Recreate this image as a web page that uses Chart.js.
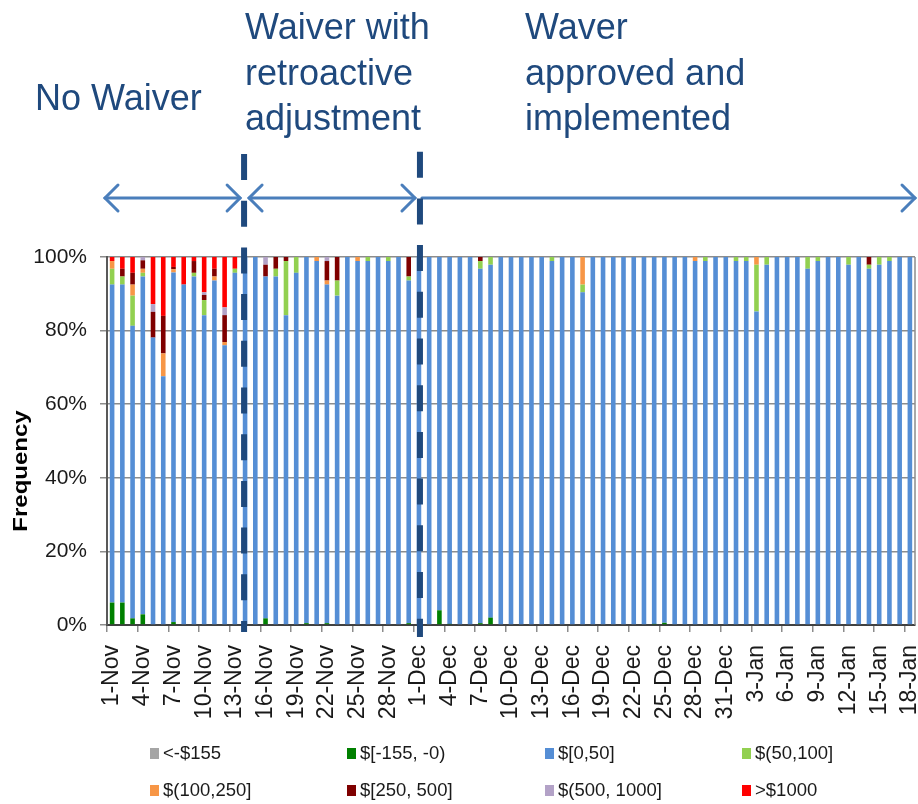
<!DOCTYPE html>
<html lang="en">
  <head>
    <meta charset="UTF-8">
    <title>Claim distribution by day</title>
    <script src="https://cdn.jsdelivr.net/npm/chart.js"></script>
    <style>
      body { margin: 0; background: #fff; }
    </style>
  </head>
  <body>
    <canvas id="barChart" width="918" height="804"></canvas>
    <script>
      const days = [
        '1-Nov','2-Nov','3-Nov','4-Nov','5-Nov','6-Nov','7-Nov','8-Nov','9-Nov','10-Nov',
        '11-Nov','12-Nov','13-Nov','14-Nov','15-Nov','16-Nov','17-Nov','18-Nov','19-Nov','20-Nov',
        '21-Nov','22-Nov','23-Nov','24-Nov','25-Nov','26-Nov','27-Nov','28-Nov','29-Nov','30-Nov',
        '1-Dec','2-Dec','3-Dec','4-Dec','5-Dec','6-Dec','7-Dec','8-Dec','9-Dec','10-Dec',
        '11-Dec','12-Dec','13-Dec','14-Dec','15-Dec','16-Dec','17-Dec','18-Dec','19-Dec','20-Dec',
        '21-Dec','22-Dec','23-Dec','24-Dec','25-Dec','26-Dec','27-Dec','28-Dec','29-Dec','30-Dec',
        '31-Dec','1-Jan','2-Jan','3-Jan','4-Jan','5-Jan','6-Jan','7-Jan','8-Jan','9-Jan',
        '10-Jan','11-Jan','12-Jan','13-Jan','14-Jan','15-Jan','16-Jan','17-Jan','18-Jan'
      ];

      const binLabels = ['<-$155', '$[-155, -0)', '$[0,50]', '$(50,100]', '$(100,250]', '$[250, 500]', '$(500, 1000]', '>$1000'];
      const binColors = ['#A5A5A5', '#008000', '#558ED5', '#92D050', '#F79646', '#7F0000', '#B3A2C7', '#FF0000'];

      // share of claims (%) per day, one array per bin
      const belowMinus155 = [
        0,0,0,0,0,0,0,0,0,0, 0,0,0,0,0,0,0,0,0,0, 0,0,0,0,0,0,0,0,0,0,
        0,0,0,0,0,0,0,0,0,0, 0,0,0,0,0,0,0,0,0,0, 0,0,0,0,0,0,0,0,0,0,
        0,0,0,0,0,0,0,0,0,0, 0,0,0,0,0,0,0,0,0
      ];
      const minus155to0 = [
        6.1,6.1,1.8,2.9,0,0,0.8,0,0,0, 0,0,0,0,0,1.8,0,0,0,0.5, 0,0.5,0,0,0,0,0,0,0,0.5,
        0,0,4.0,0.3,0,0,0.5,2.0,0,0, 0,0,0,0,0,0,0,0,0,0, 0,0,0,0.3,0.6,0,0,0,0,0,
        0,0,0,0,0,0,0,0,0,0, 0,0,0,0,0,0,0,0,0
      ];
      const zeroTo50 = [
        86.4,86.4,79.5,91.8,78.1,67.6,95.0,92.5,94.7,84.2,
        93.6,76.0,95.7,100,100,92.9,94.7,84.2,95.7,99.5,
        98.9,92.0,89.5,100,98.9,98.9,100,98.9,100,93.1,
        100,100,96.0,99.7,100,100,96.3,95.9,100,100,
        100,100,100,98.9,100,100,90.4,100,100,100,
        100,100,100,99.7,99.4,100,100,98.9,98.9,100,
        100,98.9,98.9,85.2,97.9,100,100,100,96.8,98.9,
        100,100,97.9,100,96.8,97.9,98.9,100,100
      ];
      const from50to100 = [
        4.3,2.2,8.2,1.0,0,0,0,0,1.0,4.1, 0,0,1.1,0,0,0,2.1,14.7,4.3,0, 0,0,4.1,0,0,1.1,0,1.1,0,1.1,
        0,0,0,0,0,0,2.1,2.1,0,0, 0,0,0,1.1,0,0,2.1,0,0,0, 0,0,0,0,0,0,0,0,1.1,0,
        0,1.1,1.1,12.7,2.1,0,0,0,3.2,1.1, 0,0,2.1,0,1.1,2.1,1.1,0,0
      ];
      const from100to250 = [
        2.1,0,3.0,1.1,0,6.2,0.9,0,0,0, 1.1,0.9,0,0,0,0,0,0,0,0, 1.1,1.1,0,0,1.1,0,0,0,0,0,
        0,0,0,0,0,0,0,0,0,0, 0,0,0,0,0,0,7.5,0,0,0, 0,0,0,0,0,0,0,1.1,0,0,
        0,0,0,2.1,0,0,0,0,0,0, 0,0,0,0,0,0,0,0,0
      ];
      const from250to500 = [
        0,2.1,3.2,2.3,7.0,10.2,0.6,0,3.2,1.4, 2.1,7.3,0,0,0,3.2,3.2,1.1,0,0, 0,5.3,6.4,0,0,0,0,0,0,5.3,
        0,0,0,0,0,0,1.1,0,0,0, 0,0,0,0,0,0,0,0,0,0, 0,0,0,0,0,0,0,0,0,0,
        0,0,0,0,0,0,0,0,0,0, 0,0,0,0,2.1,0,0,0,0
      ];
      const from500to1000 = [
        0,0,0,0.9,2.1,0,0,0,0,0.7, 0,2.1,0,0,0,2.1,0,0,0,0, 0,1.1,0,0,0,0,0,0,0,0,
        0,0,0,0,0,0,0,0,0,0, 0,0,0,0,0,0,0,0,0,0, 0,0,0,0,0,0,0,0,0,0,
        0,0,0,0,0,0,0,0,0,0, 0,0,0,0,0,0,0,0,0
      ];
      const above1000 = [
        1.1,3.2,4.3,0,12.8,16.0,2.7,7.5,1.1,9.6, 3.2,13.7,3.2,0,0,0,0,0,0,0, 0,0,0,0,0,0,0,0,0,0,
        0,0,0,0,0,0,0,0,0,0, 0,0,0,0,0,0,0,0,0,0, 0,0,0,0,0,0,0,0,0,0,
        0,0,0,0,0,0,0,0,0,0, 0,0,0,0,0,0,0,0,0
      ];

      const yTicks = [0, 20, 40, 60, 80, 100];

      // period markers: dashed line drawn over these days
      const waiverStartDay = '14-Nov';
      const waiverApprovedDay = '1-Dec';

      const series = [belowMinus155, minus155to0, zeroTo50, from50to100, from100to250, from250to500, from500to1000, above1000];

      const data = {
        labels: days,
        datasets: series.map((values, i) => ({
          label: binLabels[i],
          data: values,
          backgroundColor: binColors[i],
          barPercentage: 0.45,
          categoryPercentage: 1.0
        }))
      };

      const overlayPlugin = {
        id: 'overlay',
        afterDraw(chart) {
          const ctx = chart.ctx;
          const area = chart.chartArea;
          const xScale = chart.scales.x;
          ctx.save();

          // right border of plot area
          ctx.strokeStyle = '#8C8C8C';
          ctx.lineWidth = 1.5;
          ctx.beginPath();
          ctx.moveTo(area.right, area.top);
          ctx.lineTo(area.right, area.bottom);
          ctx.stroke();

          const x1 = xScale.getPixelForValue(days.indexOf(waiverStartDay)) - 1;
          const x2 = xScale.getPixelForValue(days.indexOf(waiverApprovedDay)) + 1;

          // arrows
          const ay = 198;
          ctx.strokeStyle = '#4A7EBB';
          ctx.lineWidth = 3;
          ctx.lineCap = 'round';
          function head(x, dir) {
            ctx.beginPath();
            ctx.moveTo(x - dir * 13, ay - 13);
            ctx.lineTo(x, ay);
            ctx.lineTo(x - dir * 13, ay + 13);
            ctx.stroke();
          }
          function arrow(xa, xb, leftHead, rightHead) {
            ctx.beginPath();
            ctx.moveTo(xa, ay);
            ctx.lineTo(xb, ay);
            ctx.stroke();
            if (leftHead) head(xa, -1);
            if (rightHead) head(xb, 1);
          }
          arrow(area.left - 2, x1 - 4, true, true);
          arrow(x1 + 5, x2 - 5, true, true);
          arrow(x2 + 2, area.right, false, true);

          // dashed period lines
          ctx.strokeStyle = '#1F497D';
          ctx.lineWidth = 6;
          ctx.lineCap = 'butt';
          ctx.setLineDash([26, 20.7]);
          ctx.beginPath();
          ctx.moveTo(x1, 154);
          ctx.lineTo(x1, 632);
          ctx.stroke();
          ctx.beginPath();
          ctx.moveTo(x2, 151.7);
          ctx.lineTo(x2, 637);
          ctx.stroke();
          ctx.setLineDash([]);

          // period captions
          ctx.fillStyle = '#1F497D';
          ctx.font = '36px "Liberation Sans", Arial, sans-serif';
          ctx.textAlign = 'left';
          ctx.textBaseline = 'alphabetic';
          ctx.fillText('No Waiver', 35, 110);
          ['Waiver with', 'retroactive', 'adjustment'].forEach((t, i) => ctx.fillText(t, 245, 39 + i * 45.5));
          ['Waver', 'approved and', 'implemented'].forEach((t, i) => ctx.fillText(t, 525, 39 + i * 45.5));

          // y axis title
          ctx.save();
          ctx.translate(21, 471);
          ctx.rotate(-Math.PI / 2);
          ctx.scale(1.2, 1);
          ctx.fillStyle = '#000';
          ctx.font = 'bold 20px "Liberation Sans", Arial, sans-serif';
          ctx.textAlign = 'center';
          ctx.textBaseline = 'middle';
          ctx.fillText('Frequency', 0, 0);
          ctx.restore();

          // legend, 2 rows x 4 columns
          const colX = [150, 347, 545, 742];
          const rowY = [753, 790];
          ctx.font = '18.5px "Liberation Sans", Arial, sans-serif';
          ctx.textBaseline = 'middle';
          chart.data.datasets.forEach((ds, i) => {
            const cx = colX[i % 4];
            const cy = rowY[Math.floor(i / 4)];
            ctx.fillStyle = ds.backgroundColor;
            ctx.fillRect(cx, cy - 5, 9, 11);
            ctx.fillStyle = '#1a1a1a';
            ctx.fillText(ds.label, cx + 13, cy + 1);
          });

          ctx.restore();
        }
      };

      const options = {
        responsive: false,
        animation: false,
        devicePixelRatio: 1,
        layout: {
          padding: { top: 257, right: 3, left: 0, bottom: 0 }
        },
        plugins: {
          legend: { display: false },
          tooltip: { enabled: false }
        },
        scales: {
          x: {
            stacked: true,
            offset: true,
            grid: {
              offset: true,
              drawOnChartArea: false,
              drawTicks: true,
              tickLength: 7,
              lineWidth: 1.5,
              color: ctx => (ctx.index % 3 === 0 ? '#8C8C8C' : 'rgba(0,0,0,0)')
            },
            border: { color: '#404040', width: 2 },
            ticks: {
              autoSkip: false,
              minRotation: 90,
              maxRotation: 90,
              padding: 13,
              color: '#1a1a1a',
              font: { family: '"Liberation Sans", Arial, sans-serif', size: 23 },
              callback: function (value, index) {
                return index % 3 === 0 ? this.getLabelForValue(value) : '';
              }
            },
            afterFit: scale => {
              scale.height = 179;
              scale.paddingLeft = 0;
              scale.paddingRight = 0;
            }
          },
          y: {
            stacked: true,
            min: 0,
            max: 100,
            afterBuildTicks: scale => {
              scale.ticks = yTicks.map(v => ({ value: v }));
            },
            grid: {
              color: '#8C8C8C',
              lineWidth: 1.5,
              tickLength: 7
            },
            border: { color: '#595959', width: 2 },
            ticks: {
              padding: 13,
              color: '#1a1a1a',
              font: { family: '"Liberation Sans", Arial, sans-serif', size: 21 },
              callback: v => v + '%'
            },
            afterFit: scale => {
              scale.width = 107;
            }
          }
        }
      };

      new Chart(document.getElementById('barChart'), {
        type: 'bar',
        data,
        options,
        plugins: [overlayPlugin]
      });
    </script>
  </body>
</html>
